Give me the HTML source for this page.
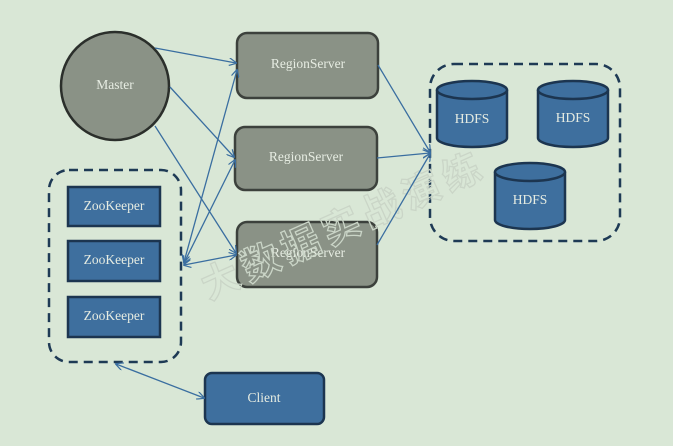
<!DOCTYPE html>
<html><head><meta charset="utf-8"><style>
html,body{margin:0;padding:0;background:#d9e7d6;width:673px;height:446px;overflow:hidden}
svg text{font-family:"Liberation Serif",serif;fill:#e6ece2;font-size:13.5px;text-anchor:middle;dominant-baseline:middle}
</style></head><body>
<svg width="673" height="446" viewBox="0 0 673 446" xmlns="http://www.w3.org/2000/svg">
<defs>
<marker id="a" viewBox="0 0 10 10" refX="9" refY="5" markerWidth="8" markerHeight="8" orient="auto-start-reverse" markerUnits="userSpaceOnUse">
<path d="M0,0 L10,5 L0,10" fill="none" stroke="#3a6ea0" stroke-width="1.5"/></marker>
</defs>
<rect width="673" height="446" fill="#d9e7d6"/>
<rect x="49" y="170" width="132" height="192" rx="20" fill="none" stroke="#1e3a55" stroke-width="2.5" stroke-dasharray="9,6"/>
<rect x="430" y="64" width="190" height="177" rx="24" fill="none" stroke="#1e3a55" stroke-width="2.5" stroke-dasharray="9,6"/>
<circle cx="115" cy="86" r="54" fill="#8a9286" stroke="#2b2f2b" stroke-width="2.5"/>
<text x="115" y="86">Master</text>
<g fill="#8a9286" stroke="#3c413c" stroke-width="2.5">
<rect x="237" y="33" width="141" height="65" rx="10"/>
<rect x="235" y="127" width="142" height="63" rx="10"/>
<rect x="237" y="222" width="140" height="65" rx="10"/>
</g>
<text x="308" y="65">RegionServer</text>
<text x="306" y="158">RegionServer</text>
<text x="308" y="254">RegionServer</text>
<g fill="#3e6f9e" stroke="#1c3550" stroke-width="2.5">
<rect x="68" y="187" width="92" height="39"/>
<rect x="68" y="241" width="92" height="40"/>
<rect x="68" y="297" width="92" height="40"/>
</g>
<text x="114" y="207">ZooKeeper</text>
<text x="114" y="261">ZooKeeper</text>
<text x="114" y="317">ZooKeeper</text>
<rect x="205" y="373" width="119" height="51" rx="7" fill="#3e6f9e" stroke="#1c3550" stroke-width="2.5"/>
<text x="264" y="399">Client</text>
<g fill="#3e6f9e" stroke="#1c3550" stroke-width="2.5">
<path d="M437,90 v48 a35,9 0 0 0 70,0 v-48"/><ellipse cx="472" cy="90" rx="35" ry="9"/>
<path d="M538,90 v48 a35,9 0 0 0 70,0 v-48"/><ellipse cx="573" cy="90" rx="35" ry="9"/>
<path d="M495,172 v48 a35,9 0 0 0 70,0 v-48"/><ellipse cx="530" cy="172" rx="35" ry="9"/>
</g>
<text x="472" y="120">HDFS</text>
<text x="573" y="119">HDFS</text>
<text x="530" y="201">HDFS</text>
<text x="345" y="228" transform="rotate(-24 345 228)" style="font-family:'Noto Sans CJK SC',sans-serif;font-size:38px;font-weight:bold;fill:none;stroke:#cad5c7;stroke-width:1.3;letter-spacing:6px">大数据实战演练</text>
<g stroke="#3a6ea0" stroke-width="1.3" fill="none" marker-end="url(#a)">
<line x1="155" y1="48" x2="236" y2="63"/>
<line x1="170" y1="87" x2="234" y2="157"/>
<line x1="155" y1="126" x2="236" y2="253"/>
<line x1="184" y1="262" x2="237" y2="70" marker-start="url(#a)"/>
<line x1="184" y1="263" x2="235" y2="160" marker-start="url(#a)"/>
<line x1="184" y1="265" x2="236" y2="255" marker-start="url(#a)"/>
<line x1="378" y1="65" x2="430" y2="152"/>
<line x1="377" y1="158" x2="430" y2="153"/>
<line x1="377" y1="245" x2="430" y2="154"/>
<line x1="116" y1="364" x2="204" y2="398" marker-start="url(#a)"/>
</g>
</svg>
</body></html>
